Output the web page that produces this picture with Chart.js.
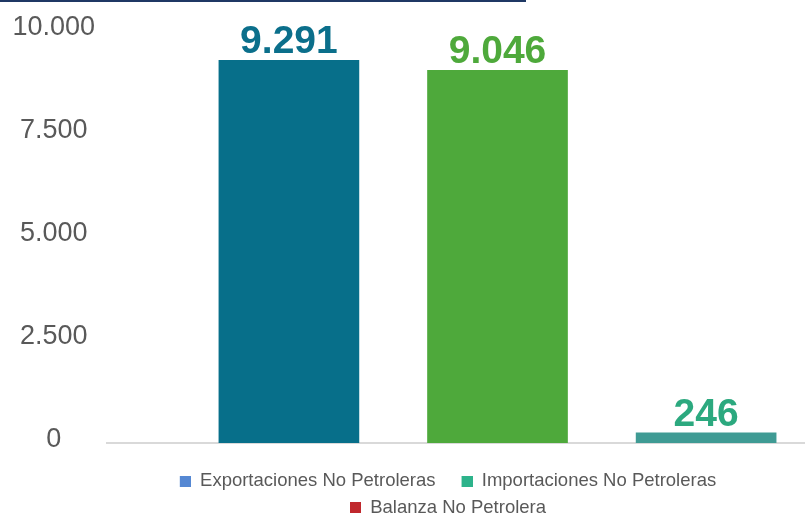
<!DOCTYPE html>
<html>
<head>
<meta charset="utf-8">
<script src="https://cdn.jsdelivr.net/npm/chart.js@4.4.1/dist/chart.umd.min.js"></script>
<style>
  body { margin: 0; background: #fff; }
  #wrap { position: relative; width: 805px; height: 515px; }
  #topline { position: absolute; left: 0; top: 0; width: 526px; height: 2px; background: #1F3864; }
</style>
</head>
<body>
<div id="wrap">
  <div id="topline"></div>
  <canvas id="myChart"></canvas>
</div>
<script>
const categories = ["Exportaciones No Petroleras", "Importaciones No Petroleras", "Balanza No Petrolera"];
const values = [9291, 9046, 246];
const barColors = ["#076F8A", "#4EA93B", "#3F9B94"];
const labelColors = ["#0B6F8B", "#4EA93B", "#2CA97F"];
const legendColors = ["#5588D3", "#2DB38B", "#C0282D"];
const yTicks = [0, 2500, 5000, 7500, 10000];

function fmt(v) {
  return String(v).replace(/\B(?=(\d{3})+(?!\d))/g, ".");
}

// legend marker: 11px square with empty space on its left (wider gap between items)
function marker(color) {
  const c = document.createElement("canvas");
  c.width = 29;
  c.height = 11;
  const g = c.getContext("2d");
  g.fillStyle = color;
  g.fillRect(18, 0, 11, 11);
  return c;
}
const markers = legendColors.map(marker);

// value labels above each bar
const barLabels = {
  id: "barLabels",
  afterDatasetsDraw(chart) {
    const ctx = chart.ctx;
    ctx.save();
    ctx.font = "bold 39px 'Liberation Sans', Arial, sans-serif";
    ctx.textAlign = "center";
    ctx.textBaseline = "alphabetic";
    chart.data.datasets.forEach((ds, i) => {
      const bar = chart.getDatasetMeta(i).data[0];
      ctx.fillStyle = labelColors[i];
      ctx.fillText(fmt(values[i]), bar.x, bar.y - 7);
    });
    ctx.restore();
  }
};

// nudge the legend a bit to the left
const legendShift = {
  id: "legendShift",
  afterLayout(chart) {
    chart.legend.left -= 17;
    chart.legend.right -= 17;
  }
};

new Chart("myChart", {
  type: "bar",
  data: {
    datasets: categories.map((name, i) => ({
      label: name,
      data: [{x: i + 1, y: values[i]}],
      backgroundColor: barColors[i],
      barThickness: 140,
      grouped: false
    }))
  },
  options: {
    responsive: true,
    maintainAspectRatio: false,
    animation: false,
    layout: {padding: {top: 31, bottom: -12, left: 0, right: 0}},
    scales: {
      x: {
        type: "linear",
        min: 0.128,
        max: 3.474,
        offset: false,
        ticks: {display: false},
        grid: {display: false, drawTicks: false},
        border: {display: true, color: "#D9D9D9", width: 2},
        afterFit: s => { s.height = 21; }
      },
      y: {
        min: 0,
        max: 10000,
        afterBuildTicks: s => { s.ticks = yTicks.map(v => ({value: v})); },
        ticks: {
          crossAlign: "center",
          padding: 12,
          color: "#595959",
          font: {family: "'Liberation Sans', Arial, sans-serif", size: 27, lineHeight: 0.22},
          callback: v => [fmt(v), ""]
        },
        grid: {display: false, drawTicks: false},
        border: {display: false},
        afterFit: s => { s.width = 107; }
      }
    },
    plugins: {
      tooltip: {enabled: false},
      legend: {
        position: "bottom",
        fullSize: false,
        labels: {
          usePointStyle: true,
          pointStyleWidth: 29,
          boxHeight: 11,
          padding: 8,
          color: "#595959",
          font: {family: "'Liberation Sans', Arial, sans-serif", size: 18.5},
          generateLabels: chart => categories.map((name, i) => ({
            text: name,
            fillStyle: legendColors[i],
            strokeStyle: legendColors[i],
            pointStyle: markers[i],
            lineWidth: 0,
            fontColor: "#595959",
            datasetIndex: i
          }))
        }
      }
    }
  },
  plugins: [barLabels, legendShift]
});
</script>
</body>
</html>
